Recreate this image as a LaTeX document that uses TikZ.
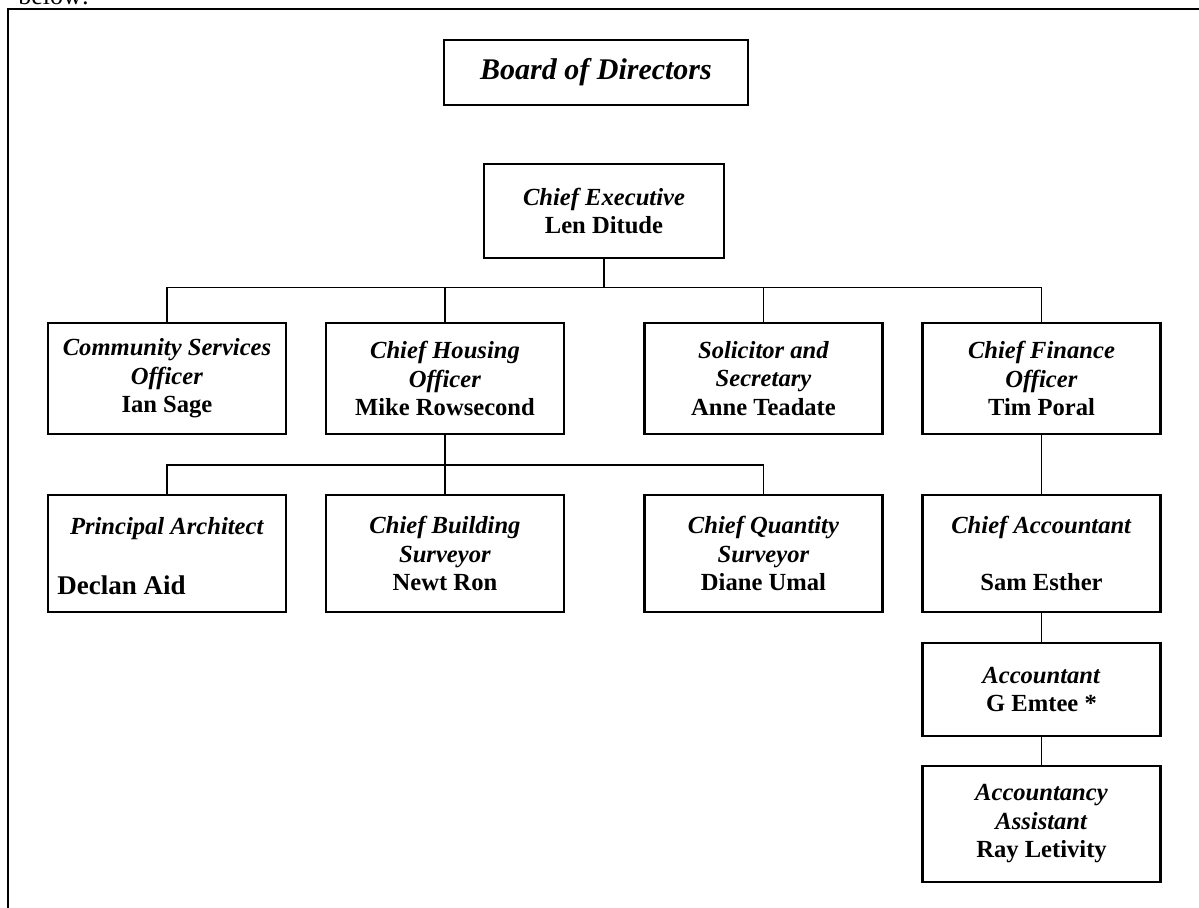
\documentclass[tikz,border=0pt]{standalone}
\usepackage{fontspec}
\setmainfont{Liberation Serif}
\begin{document}
\begin{tikzpicture}[x=0.5pt,y=-0.5pt,
  box/.style={draw,line width=1.1pt,rectangle,inner sep=0pt,align=center,
    font=\fontsize{12.3}{14.25}\selectfont},
  wbox/.style={box,minimum width=119pt},
  conn/.style={line width=0.85pt},
  lbl/.style={inner sep=0pt,font=\fontsize{12.3}{14.25}\selectfont}]
\useasboundingbox (0,0) rectangle (1199,907);
% partially visible text above frame
\node[anchor=base west,inner sep=0pt,font=\fontsize{13}{15}\selectfont] (below) at (18,4) {below:};
% outer frame
\draw[line width=0.9pt] (8,920) -- (8,9) -- (1210,9);
% boxes
\node[box,minimum width=152pt,minimum height=32.5pt,font=\fontsize{15}{18}\selectfont] (bod) at (596,72.5) {\textbf{\textit{Board of Directors}}};
\node[box,minimum width=120pt,minimum height=47pt] (ce) at (604,211) {\textbf{\textit{Chief Executive}}\\\textbf{Len Ditude}};
\node[wbox,minimum height=55.5pt] (cso) at (167,378.5) {\textbf{\textit{Community Services}}\\\textbf{\textit{Officer}}\\\textbf{Ian Sage}};
\node[wbox,minimum height=55.5pt] (cho) at (445,378.5) {\textbf{\textit{Chief Housing}}\\\textbf{\textit{Officer}}\\\textbf{Mike Rowsecond}};
\node[wbox,minimum height=55.5pt] (sol) at (763.5,378.5) {\textbf{\textit{Solicitor and}}\\\textbf{\textit{Secretary}}\\\textbf{Anne Teadate}};
\node[wbox,minimum height=55.5pt] (cfo) at (1041.5,378.5) {\textbf{\textit{Chief Finance}}\\\textbf{\textit{Officer}}\\\textbf{Tim Poral}};
\node[wbox,minimum height=58.5pt] (pa) at (167,553.5) {};
\node[lbl,anchor=base] (patitle) at (167,534) {\textbf{\textit{Principal Architect}}};
\node[lbl,anchor=base west,font=\fontsize{13.5}{16}\selectfont] (paname) at (57,594) {\textbf{Declan Aid}};
\node[wbox,minimum height=58.5pt] (cbs) at (445,553.5) {\textbf{\textit{Chief Building}}\\\textbf{\textit{Surveyor}}\\\textbf{Newt Ron}};
\node[wbox,minimum height=58.5pt] (cqs) at (763.5,553.5) {\textbf{\textit{Chief Quantity}}\\\textbf{\textit{Surveyor}}\\\textbf{Diane Umal}};
\node[wbox,minimum height=58.5pt] (ca) at (1041.5,553.5) {\textbf{\textit{Chief Accountant}}\\[14.5pt]\textbf{Sam Esther}};
\node[wbox,minimum height=46.5pt] (acc) at (1041.5,689.5) {\textbf{\textit{Accountant}}\\\textbf{G Emtee *}};
\node[wbox,minimum height=58pt] (asst) at (1041.5,824) {\textbf{\textit{Accountancy}}\\\textbf{\textit{Assistant}}\\\textbf{Ray Letivity}};
% connectors
\coordinate (bar1) at (604,287.5);
\coordinate (bar2) at (445,465);
\draw[conn] (ce.south) -- (bar1);
\draw[conn] (bar1) -| (cso.north);
\draw[conn] (bar1) -| (cho.north);
\draw[conn] (bar1) -| (sol.north);
\draw[conn] (bar1) -| (cfo.north);
\draw[conn] (cho.south) -- (bar2);
\draw[conn] (bar2) -| (pa.north);
\draw[conn] (bar2) -- (cbs.north);
\draw[conn] (bar2) -| (cqs.north);
\draw[conn] (cfo.south) -- (ca.north);
\draw[conn] (ca.south) -- (acc.north);
\draw[conn] (acc.south) -- (asst.north);
\end{tikzpicture}
\end{document}
